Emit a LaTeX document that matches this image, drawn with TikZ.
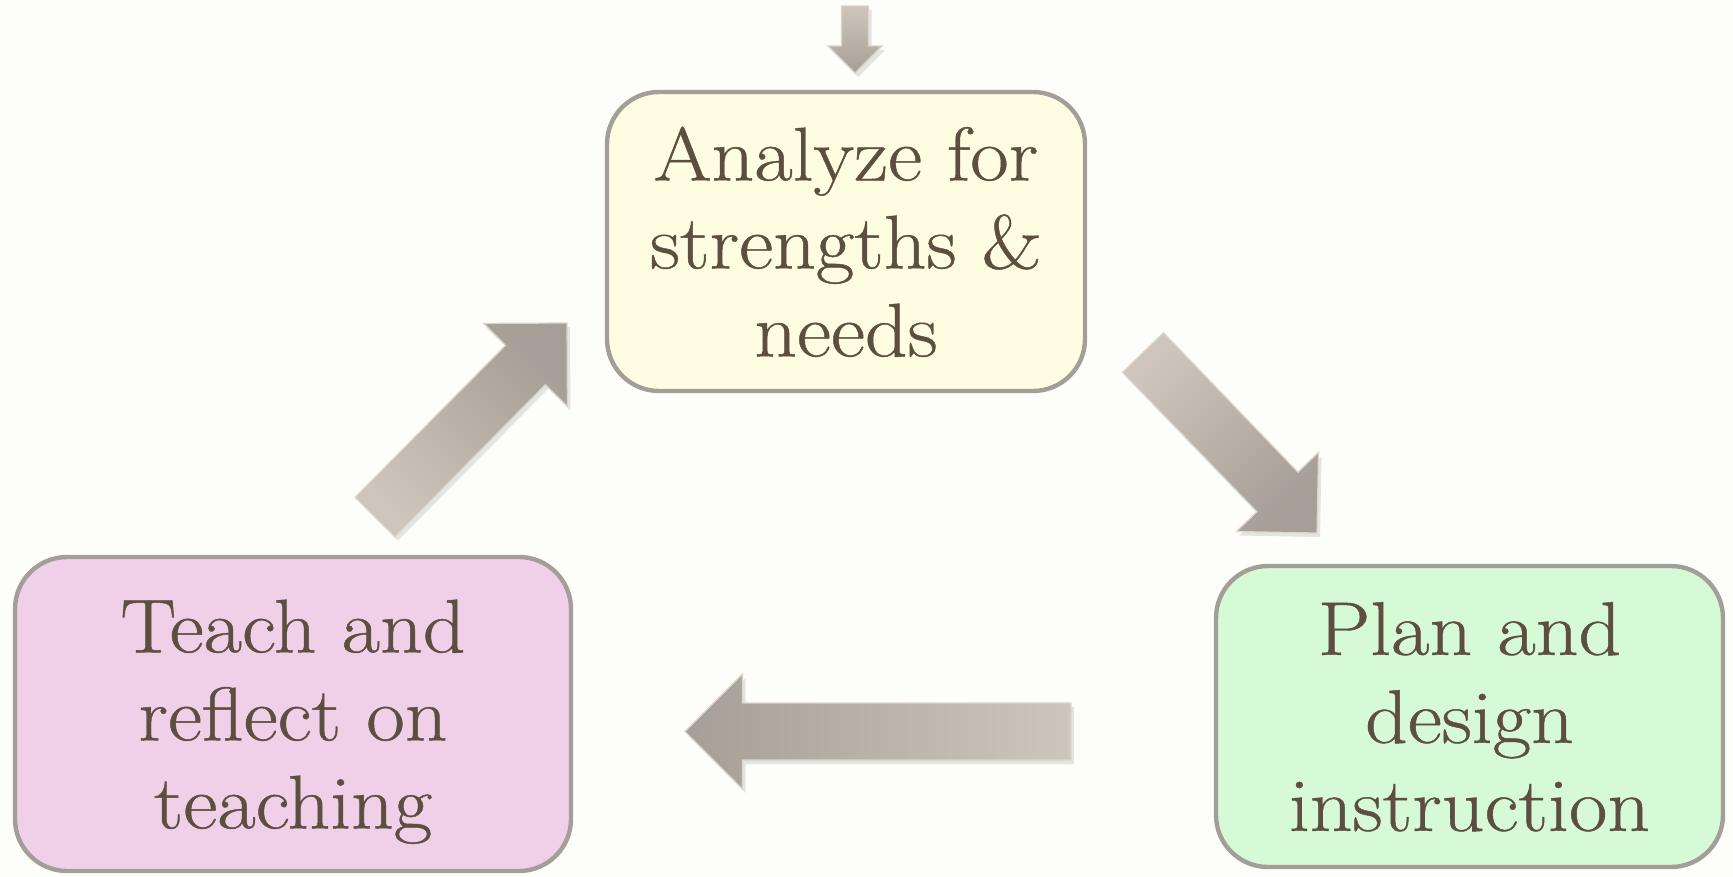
\documentclass[tikz,border=0pt]{standalone}
\usepackage{fontspec}
\setmainfont{Latin Modern Roman}[FakeStretch=1.1, FakeBold=0.6]
\usetikzlibrary{calc,shadows}

\definecolor{latar}{RGB}{253,253,250}
\definecolor{tepikotak}{RGB}{163,158,152}
\definecolor{kuning}{RGB}{254,253,226}
\definecolor{merahmuda}{RGB}{239,208,232}
\definecolor{hijau}{RGB}{213,250,213}
\definecolor{teks}{RGB}{94,78,64}
\definecolor{terang}{RGB}{206,198,188}
\definecolor{gelap}{RGB}{166,159,151}
\definecolor{tepipanah}{RGB}{220,213,204}

% Panah blok: ekor, ujung, setengah lebar batang, setengah lebar kepala, arsiran
\newcommand{\panah}[5]{%
  \coordinate (#2-b) at ($(#2)!#4!(#1)$);
  \shade[#5, draw=tepipanah, line width=0.6pt,
    drop shadow={opacity=0.2, shadow xshift=1.5pt, shadow yshift=-2pt}]
    ($(#1)!#3!90:(#2)$) -- ($(#2-b)!#3!90:(#2)$) -- ($(#2-b)!#4!90:(#2)$)
    -- (#2) -- ($(#2-b)!#4!-90:(#2)$) -- ($(#2-b)!#3!-90:(#2)$)
    -- ($(#1)!#3!-90:(#2)$) -- cycle;
}

\begin{document}
\begin{tikzpicture}[x=0.5pt, y=-0.5pt,
    kotak/.style={draw=tepikotak, line width=2.2pt, rounded corners=26pt,
      align=center, inner sep=0pt, text=teks, text depth=0pt,
      font=\fontsize{38}{44}\selectfont}]

  % Latar
  \useasboundingbox (0,0) rectangle (1733,877);
  \fill[latar] (0,0) rectangle (1733,877);

  % Kotak
  \node[kotak, fill=kuning, minimum width=239pt, minimum height=149.5pt]
    (analisis) at (846,241.5) {Analyze for\\strengths \&\\needs};
  \node[kotak, fill=hijau, minimum width=253.5pt, minimum height=150.5pt]
    (rencana) at (1469.5,716.5) {Plan and\\design\\instruction};
  \node[kotak, fill=merahmuda, minimum width=278pt, minimum height=157pt]
    (mengajar) at (293,714) {Teach and\\reflect on\\teaching};

  % Ekor dan ujung panah
  \coordinate (e0) at (855,6);      \coordinate (u0) at (855,73);
  \coordinate (e1) at (1143,352.5); \coordinate (u1) at (1317,533);
  \coordinate (e2) at (1071,731.5); \coordinate (u2) at (685,731.5);
  \coordinate (e3) at (375,517);    \coordinate (u3) at (567,323);

  % Panah
  \panah{e0}{u0}{6.75pt}{13.5pt}{top color=terang, bottom color=gelap}
  \panah{e1}{u1}{14.25pt}{28.5pt}{top color=gelap, bottom color=terang, shading angle=-135}
  \panah{e2}{u2}{14.25pt}{28.75pt}{left color=gelap, right color=terang}
  \panah{e3}{u3}{14pt}{29.5pt}{top color=gelap, bottom color=terang, shading angle=-45}
\end{tikzpicture}
\end{document}
